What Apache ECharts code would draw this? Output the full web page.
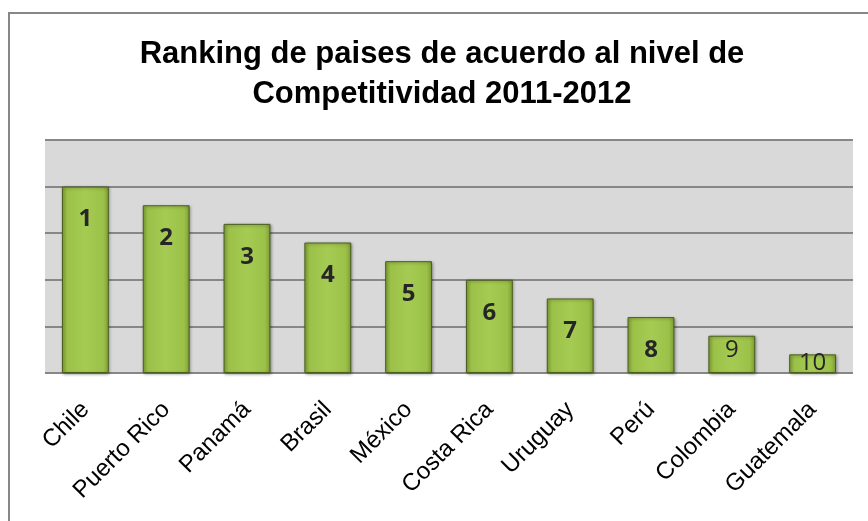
<!DOCTYPE html>
<html>
<head>
<meta charset="utf-8">
<script src="https://cdn.jsdelivr.net/npm/echarts@6/dist/echarts.min.js"></script>
<style>html,body{margin:0;padding:0;background:#fff}#c{width:868px;height:521px}</style>
</head>
<body>
<div id="c"></div>
<script>
var titleText = "Ranking de paises de acuerdo al nivel de\nCompetitividad 2011-2012";
var categories = ["Chile", "Puerto Rico", "Panamá", "Brasil", "México", "Costa Rica", "Uruguay", "Perú", "Colombia", "Guatemala"];
var values = [10, 9, 8, 7, 6, 5, 4, 3, 2, 1];
var rankLabels = ["1", "2", "3", "4", "5", "6", "7", "8", "9", "10"];
var boldLabels = [true, true, true, true, true, true, true, true, false, false];
var yMax = 12.5;
var yInterval = 2.5;

var chart = echarts.init(document.getElementById('c'), null, {renderer: 'canvas'});
var barColor = new echarts.graphic.LinearGradient(0, 0, 1, 0, [
  {offset: 0, color: '#86a83a'},
  {offset: 0.12, color: '#9cc148'},
  {offset: 0.5, color: '#a6cb52'},
  {offset: 0.88, color: '#9cc148'},
  {offset: 1, color: '#7f9f36'}
]);
var data = values.map(function (v, i) {
  // small bars: label sits near the top (as in the original)
  var dist = v >= 3 ? 21 : (v >= 2 ? 2 : -3);
  return {
    value: v,
    label: {
      formatter: rankLabels[i],
      fontWeight: boldLabels[i] ? 'bold' : 'normal',
      distance: dist
    }
  };
});
chart.setOption({
  animation: false,
  backgroundColor: '#ffffff',
  graphic: [{
    type: 'rect',
    shape: {x: 9, y: 13, width: 880, height: 540},
    style: {fill: 'none', stroke: '#878787', lineWidth: 2},
    silent: true,
    z: -1
  }],
  title: {
    text: titleText,
    left: 437,
    top: 29,
    textAlign: 'center',
    textStyle: {
      fontFamily: 'Liberation Sans, Arial, sans-serif',
      fontWeight: 'bold',
      fontSize: 31,
      lineHeight: 40,
      color: '#000'
    }
  },
  grid: {left: 45, right: 15, top: 140, bottom: 148, show: true, backgroundColor: '#d9d9d9', borderWidth: 0},
  xAxis: {
    type: 'category',
    data: categories,
    axisLine: {show: false},
    axisTick: {show: false},
    axisLabel: {
      rotate: 45,
      interval: 0,
      margin: 33,
      fontFamily: 'Liberation Sans, Arial, sans-serif',
      fontSize: 24,
      color: '#000'
    }
  },
  yAxis: {
    type: 'value',
    min: 0,
    max: yMax,
    interval: yInterval,
    axisLabel: {show: false},
    axisLine: {show: false},
    axisTick: {show: false},
    splitLine: {show: true, lineStyle: {color: '#878787', width: 2}}
  },
  series: [{
    type: 'bar',
    data: data,
    barWidth: '58%',
    itemStyle: {
      color: barColor,
      borderColor: '#4a5e1f',
      borderWidth: 1,
      shadowColor: 'rgba(0,0,0,0.35)',
      shadowBlur: 3,
      shadowOffsetX: 1,
      shadowOffsetY: 1
    },
    label: {
      show: true,
      position: 'insideTop',
      fontFamily: 'Open Sans, DejaVu Sans, sans-serif',
      fontSize: 24,
      color: '#262626'
    },
    z: 3
  }]
});
</script>
</body>
</html>
